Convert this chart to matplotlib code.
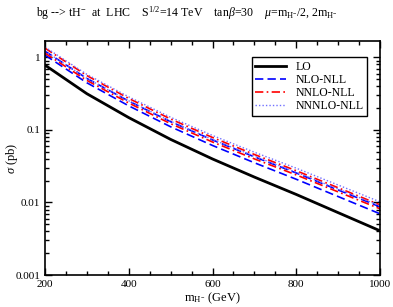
import matplotlib
matplotlib.use("Agg")
import matplotlib.pyplot as plt
from matplotlib.ticker import MultipleLocator, LogLocator, NullFormatter

plt.rcParams['font.family'] = ['Liberation Serif', 'DejaVu Serif']
plt.rcParams['mathtext.fontset'] = 'custom'
plt.rcParams['mathtext.rm'] = 'Liberation Serif'
plt.rcParams['mathtext.it'] = 'Liberation Serif:italic'

mass = [200, 300, 400, 500, 600, 700, 800, 900, 1000]
lo = [0.783, 0.316, 0.148, 0.0741, 0.0398, 0.0224, 0.0129, 0.00724, 0.00407]
nlo_low = [1.076, 0.447, 0.215, 0.1106, 0.0611, 0.0353, 0.0209, 0.01207, 0.00698]
nlo_high = [1.221, 0.513, 0.250, 0.130, 0.0728, 0.0426, 0.0255, 0.01489, 0.00872]
nnlo_low = [1.145, 0.482, 0.235, 0.122, 0.0682, 0.0399, 0.0240, 0.01399, 0.00818]
nnlo_high = [1.342, 0.562, 0.272, 0.1415, 0.0787, 0.0459, 0.0274, 0.01595, 0.00928]
nnnlo_low = [1.221, 0.515, 0.252, 0.1318, 0.0739, 0.0435, 0.0261, 0.0153, 0.00899]
nnnlo_high = [1.386, 0.584, 0.286, 0.1495, 0.0839, 0.0493, 0.0297, 0.0174, 0.0102]

ytick_vals = [0.001, 0.01, 0.1, 1]
ytick_labels = ["0.001", "0.01", "0.1", "1"]
xtick_vals = [200, 400, 600, 800, 1000]

fig = plt.figure(figsize=(3.93, 3.07), dpi=100)
ax = fig.add_axes([0.1145, 0.1042, 0.8525, 0.7632])

ax.plot(mass, lo, color='black', lw=2.0, label='LO')
ax.plot(mass, nlo_low, color='#0000ff', lw=1.2, ls=(0, (5, 2.5)), label='NLO-NLL')
ax.plot(mass, nlo_high, color='#0000ff', lw=1.2, ls=(0, (5, 2.5)))
ax.plot(mass, nnlo_low, color='#ff0000', lw=1.2, ls=(0, (5, 2, 1, 2)), label='NNLO-NLL')
ax.plot(mass, nnlo_high, color='#ff0000', lw=1.2, ls=(0, (5, 2, 1, 2)))
ax.plot(mass, nnnlo_low, color='#7070ff', lw=1.0, ls=(0, (1, 1.5)), label='NNNLO-NLL')
ax.plot(mass, nnnlo_high, color='#7070ff', lw=1.0, ls=(0, (1, 1.5)))

ax.set_yscale('log')
ax.set_xlim(200, 1000)
ax.set_ylim(0.001, 1.7)
ax.set_xticks(xtick_vals)
ax.xaxis.set_minor_locator(MultipleLocator(50))
ax.set_yticks(ytick_vals)
ax.set_yticklabels(ytick_labels)
ax.yaxis.set_minor_locator(LogLocator(base=10, subs=range(2, 10)))
ax.yaxis.set_minor_formatter(NullFormatter())
ax.tick_params(which='both', direction='in', top=True, right=True, labelsize=8, width=1)
ax.tick_params(which='major', length=5)
ax.tick_params(which='minor', length=3)
for s in ax.spines.values():
    s.set_linewidth(1.2)

ax.set_xlabel(r'm$_{\mathrm{H}^{-}}$ (GeV)', fontsize=9, labelpad=1)
ax.set_ylabel(r'$\sigma$ (pb)', fontsize=9)
ax.yaxis.set_label_coords(-0.075, 0.5)

fig.text(0.475, 0.957,
         r'bg --> tH$^{-}$  at  LHC    S$^{1/2}$=14 TeV    tan$\beta$=30    $\mu$=m$_{\mathrm{H}^{-}}$/2, 2m$_{\mathrm{H}^{-}}$',
         ha='center', va='center', fontsize=8.6)

leg = ax.legend(loc='upper right', bbox_to_anchor=(0.961, 0.930), fontsize=8.5,
                frameon=True, fancybox=False, edgecolor='black', framealpha=1,
                handlelength=2.6, borderpad=0.3, labelspacing=0.1, handletextpad=0.8,
                borderaxespad=0)
leg.get_frame().set_linewidth(1.0)

fig.savefig('out.png', dpi=100)
